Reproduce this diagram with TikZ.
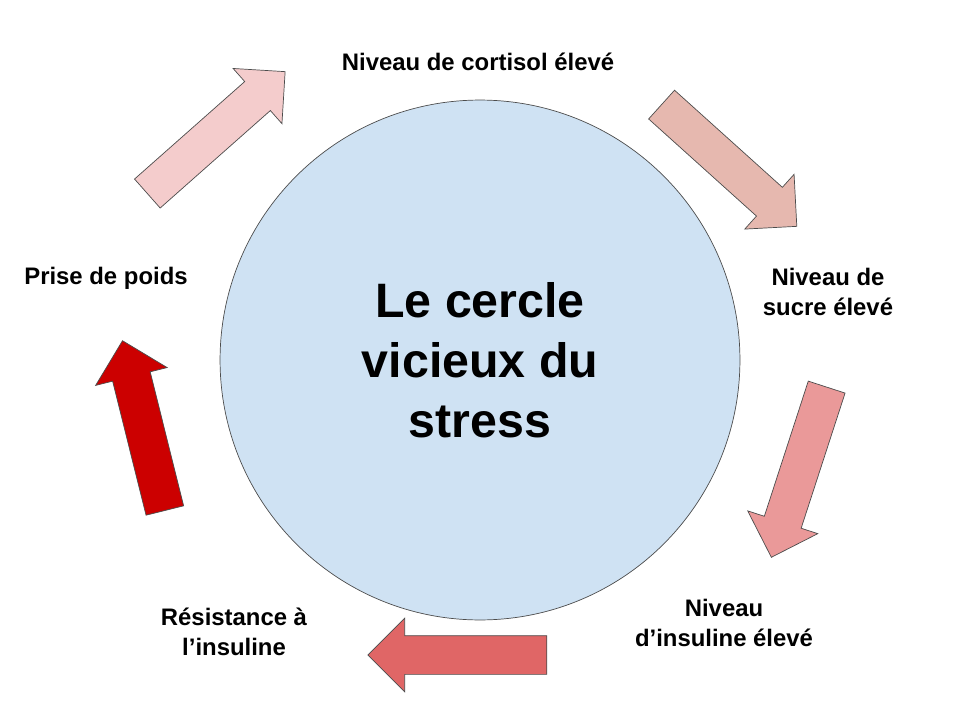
\documentclass[tikz,border=0pt]{standalone}
\usepackage{fontspec}
\setmainfont{Liberation Sans}
\usetikzlibrary{shapes.arrows}
\definecolor{bleu}{HTML}{CFE2F3}
\definecolor{rose1}{HTML}{F4CCCC}
\definecolor{rose2}{HTML}{E6B8AF}
\definecolor{rose3}{HTML}{EA9999}
\definecolor{rouge1}{HTML}{E06666}
\definecolor{rouge2}{HTML}{CC0000}
\tikzset{
  fleche/.style={single arrow, draw=black!70, thin,
    single arrow head extend=0.35cm, single arrow head indent=0pt,
    inner sep=0.38cm, text width=0pt, text height=0pt, text depth=0pt},
  etiquette/.style={font=\bfseries\fontsize{13.6}{16.8}\selectfont, align=center}
}
\begin{document}
\begin{tikzpicture}[x=0.02cm,y=-0.02cm]
\useasboundingbox (0,0) rectangle (960,720);
\node[circle, draw=black!70, fill=bleu, minimum size=10.4cm] (cercle) at (480,360) {};
\node[font=\bfseries\fontsize{27.5}{34}\selectfont, align=center] (titre) at (480,360) {Le cercle\\vicieux du\\stress};
% fleches
\node[fleche, fill=rose1, rotate=41.5, minimum height=3.68cm] (f1) at (209,139) {};
\node[fleche, fill=rose2, rotate=-42, minimum height=3.64cm] (f2) at (722,159) {};
\node[fleche, fill=rose3, rotate=-108, minimum height=3.58cm] (f3) at (802,463) {};
\node[fleche, fill=rouge1, rotate=180, minimum height=3.58cm] (f4) at (467,655) {};
\node[fleche, fill=rouge2, rotate=104, minimum height=3.5cm] (f5) at (146,435) {};
% etiquettes
\node[etiquette] (cortisol) at (478,62) {Niveau de cortisol élevé};
\node[etiquette] (sucre) at (828,292) {Niveau de\\sucre élevé};
\node[etiquette] (insuline) at (724,623) {Niveau\\d’insuline élevé};
\node[etiquette] (resistance) at (234,632) {Résistance à\\l’insuline};
\node[etiquette] (poids) at (106,278) {Prise de poids};
\end{tikzpicture}
\end{document}
